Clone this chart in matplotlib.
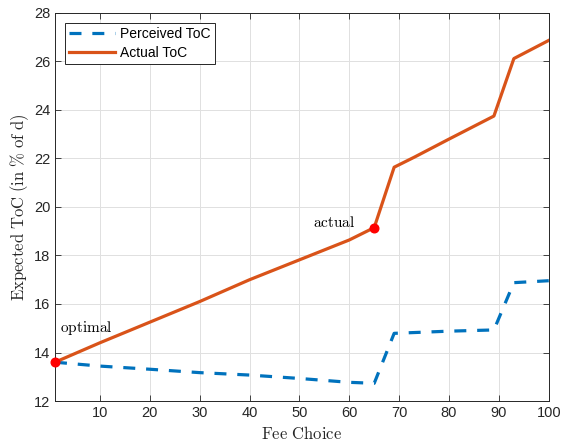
import matplotlib
matplotlib.use("Agg")
import matplotlib.pyplot as plt

plt.rcParams["mathtext.fontset"] = "cm"
plt.rcParams["font.family"] = ["Liberation Sans", "DejaVu Sans"]

# Expected total cost of the fee choice
fee_x = [1, 10, 20, 30, 40, 50, 60, 65, 69, 73, 80, 89, 93, 100]
actual_toc = [13.6, 14.4, 15.25, 16.1, 17.0, 17.82, 18.64, 19.15,
              21.64, 22.05, 22.8, 23.75, 26.12, 26.87]
perceived_x = [1, 10, 20, 30, 40, 50, 60, 65, 69, 80, 89, 93, 100]
perceived_toc = [13.6, 13.44, 13.31, 13.17, 13.07, 12.93, 12.77, 12.73,
                 14.79, 14.88, 14.93, 16.88, 16.96]

optimal_pt = (1, 13.6)
actual_pt = (65, 19.15)

x_ticks = [10, 20, 30, 40, 50, 60, 70, 80, 90, 100]
y_ticks = [12, 14, 16, 18, 20, 22, 24, 26, 28]

blue = "#0072BD"
orange = "#D95319"

fig = plt.figure(figsize=(5.64, 4.43), dpi=100)
ax = fig.add_axes([0.0975, 0.0948, 0.8755, 0.8759])

ax.plot(perceived_x, perceived_toc, color=blue, lw=2.3, ls=(0, (3.75, 3.4)),
        label="Perceived ToC")
ax.plot(fee_x, actual_toc, color=orange, lw=2.3, label="Actual ToC")
ax.plot(*optimal_pt, "o", color="red", ms=6.2, clip_on=False, zorder=5)
ax.plot(*actual_pt, "o", color="red", ms=6.2, zorder=5)

ax.text(2, 14.85, r"$\mathrm{optimal}$", fontsize=11, ha="left", va="baseline")
ax.text(61.2, 19.18, r"$\mathrm{actual}$", fontsize=11, ha="right", va="baseline")

ax.set_xlim(1, 100)
ax.set_ylim(12, 28)
ax.set_xticks(x_ticks)
ax.set_yticks(y_ticks)
ax.tick_params(direction="in", length=4, labelsize=10.5, colors="#262626",
               top=True, right=True, width=0.6)
ax.grid(True, color="#e0e0e0", lw=0.7)
ax.set_axisbelow(True)
for s in ax.spines.values():
    s.set_color("#262626")
    s.set_linewidth(0.7)

ax.set_xlabel(r"$\mathrm{Fee\ Choice}$", fontsize=12, labelpad=4, color="#262626")
ax.set_ylabel(r"$\mathrm{Expected\ ToC\ (in\ \%\ of\ d)}$", fontsize=12,
              labelpad=2, color="#262626")

leg = ax.legend(loc="upper left", fontsize=10, fancybox=False, framealpha=1,
                edgecolor="#262626", borderaxespad=0.7, handlelength=3.3,
                handletextpad=0.4, borderpad=0.3, labelspacing=0.35)
leg.get_frame().set_linewidth(0.7)

fig.savefig("out.png", dpi=100)
